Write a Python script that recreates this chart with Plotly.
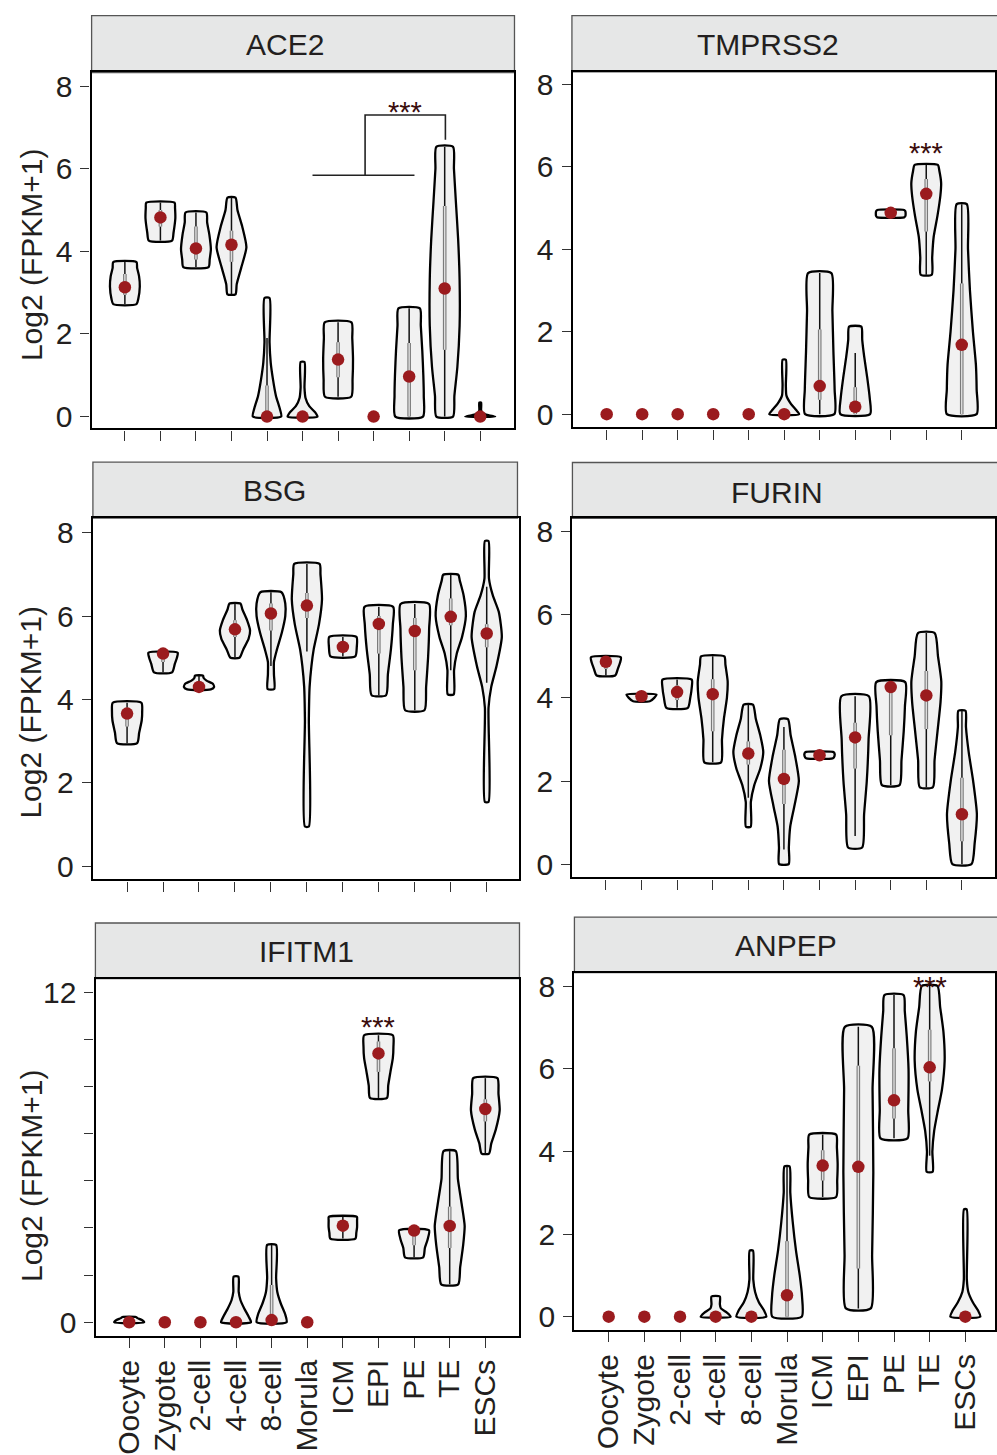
import plotly.graph_objects as go

W, H = 997, 1455
CATS = ["Oocyte", "Zygote", "2-cell", "4-cell", "8-cell", "Morula", "ICM", "EPI", "PE", "TE", "ESCs"]
GENES = ["ACE2", "TMPRSS2", "BSG", "FURIN", "IFITM1", "ANPEP"]

# ---------------- data ----------------
# median (red dot), inner box (q1-q3), whisker (lo-hi), violin outline as (value, relative density)
ACE2_med = [3.13, 4.82, 4.07, 4.16, 0, 0, 1.38, 0, 0.97, 3.10, 0]
ACE2_q1 = [2.95, 4.6, 3.8, 3.75, 0, 0, 0.95, None, 0, 1.62, 0]
ACE2_q3 = [3.45, 5.0, 4.6, 4.5, 0.75, 0, 1.8, None, 1.78, 5.1, 0]
ACE2_lo = [2.72, 4.26, 3.62, 2.96, 0, 0, 0.48, None, 0, 0, 0]
ACE2_hi = [3.74, 5.18, 4.94, 5.3, 1.9, 0, 2.28, None, 2.62, 6.53, 0]
ACE2_shape = [
    [(2.72, 0.78), (2.85, 0.9), (3.15, 1.0), (3.4, 0.95), (3.6, 0.82), (3.74, 0.78)],
    [(4.26, 0.78), (4.45, 0.88), (4.8, 1.0), (5.05, 0.98), (5.18, 0.95)],
    [(3.62, 0.85), (3.8, 0.92), (4.05, 1.0), (4.4, 0.9), (4.7, 0.75), (4.94, 0.7)],
    [(2.96, 0.27), (3.2, 0.35), (3.6, 0.65), (4.1, 1.0), (4.6, 0.72), (5.0, 0.4), (5.3, 0.27)],
    [(0, 0.95), (0.2, 0.85), (0.5, 0.6), (0.9, 0.4), (1.3, 0.25), (1.8, 0.17), (2.87, 0.17)],
    [(0, 1.0), (0.1, 0.85), (0.25, 0.45), (0.45, 0.2), (0.7, 0.13), (1.32, 0.13)],
    [(0.48, 0.88), (0.9, 0.97), (1.4, 1.0), (1.9, 0.95), (2.28, 0.9)],
    None,
    [(0, 0.93), (0.5, 0.98), (1.0, 0.95), (1.6, 0.88), (2.2, 0.78), (2.62, 0.72)],
    [(0, 0.56), (0.5, 0.65), (1.2, 0.85), (2.2, 1.0), (3.3, 1.0), (4.3, 0.9), (5.2, 0.75), (6.0, 0.62), (6.53, 0.56)],
    [(0, 1.0), (0.03, 0.6), (0.08, 0.15), (0.15, 0.06), (0.34, 0.06)],
]

TMPRSS2_med = [0, 0, 0, 0, 0, 0, 0.68, 0.18, 4.88, 5.34, 1.68]
TMPRSS2_q1 = [None, None, None, None, None, 0, 0.35, 0, 4.85, 4.43, 0]
TMPRSS2_q3 = [None, None, None, None, None, 0, 2.05, 0.65, 4.92, 5.7, 3.17]
TMPRSS2_lo = [None, None, None, None, None, 0, 0, 0, 4.77, 3.38, 0]
TMPRSS2_hi = [None, None, None, None, None, 0, 3.42, 1.48, 4.95, 6.04, 5.09]
TMPRSS2_shape = [
    None, None, None, None, None,
    [(0, 1.0), (0.1, 0.8), (0.25, 0.45), (0.45, 0.15), (0.7, 0.11), (1.32, 0.11)],
    [(0, 0.98), (0.6, 1.0), (1.5, 0.92), (2.5, 0.85), (3.42, 0.78)],
    [(0, 1.0), (0.4, 0.97), (0.9, 0.8), (1.4, 0.6), (1.8, 0.47), (2.12, 0.41)],
    [(4.77, 0.9), (4.8, 0.98), (4.86, 1.0), (4.92, 0.98), (4.95, 0.9)],
    [(3.38, 0.37), (3.8, 0.4), (4.3, 0.5), (4.8, 0.75), (5.3, 0.95), (5.6, 1.0), (5.9, 0.88), (6.04, 0.78)],
    [(0, 1.0), (0.6, 1.0), (1.2, 0.95), (2.0, 0.75), (3.0, 0.55), (4.0, 0.42), (5.09, 0.34)],
]

BSG_med = [3.66, 5.1, 4.3, 5.68, 6.06, 6.25, 5.26, 5.81, 5.64, 5.98, 5.58]
BSG_q1 = [3.35, 4.9, 4.27, 5.5, 5.65, 5.95, 5.15, 5.1, 4.7, 5.78, 5.25]
BSG_q3 = [3.8, 5.1, 4.4, 5.9, 6.3, 6.55, 5.4, 6.0, 5.95, 6.42, 5.8]
BSG_lo = [2.95, 4.65, 4.24, 5.0, 4.8, 5.15, 5.03, 4.1, 3.74, 4.7, 4.4]
BSG_hi = [3.92, 5.12, 4.57, 6.3, 6.57, 7.25, 5.5, 6.22, 6.29, 6.99, 6.7]
BSG_shape = [
    [(2.95, 0.67), (3.2, 0.8), (3.5, 0.97), (3.7, 1.0), (3.92, 0.95)],
    [(4.65, 0.6), (4.85, 0.78), (5.0, 0.92), (5.12, 0.97)],
    [(4.24, 0.78), (4.3, 1.0), (4.38, 0.9), (4.45, 0.5), (4.52, 0.3), (4.57, 0.27)],
    [(5.0, 0.3), (5.2, 0.55), (5.45, 0.9), (5.65, 1.0), (5.9, 0.8), (6.15, 0.5), (6.3, 0.36)],
    [(4.25, 0.22), (4.6, 0.2), (4.9, 0.2), (5.2, 0.4), (5.6, 0.72), (6.0, 0.95), (6.3, 0.95), (6.57, 0.7)],
    [(0.95, 0.13), (3.5, 0.13), (4.3, 0.18), (4.8, 0.3), (5.2, 0.45), (5.8, 0.8), (6.4, 1.0), (7.0, 0.9), (7.25, 0.84)],
    [(5.03, 0.82), (5.25, 0.92), (5.5, 0.9)],
    [(4.1, 0.48), (4.6, 0.6), (5.2, 0.8), (5.8, 0.93), (6.22, 0.95)],
    [(3.74, 0.64), (4.3, 0.75), (5.0, 0.88), (5.7, 0.95), (6.29, 0.94)],
    [(4.12, 0.2), (4.7, 0.22), (5.1, 0.4), (5.5, 0.75), (6.0, 1.0), (6.5, 0.85), (6.85, 0.6), (6.99, 0.5)],
    [(1.54, 0.12), (3.8, 0.12), (4.3, 0.3), (4.8, 0.65), (5.5, 1.0), (6.1, 0.8), (6.5, 0.4), (6.9, 0.15), (7.8, 0.12)],
]

FURIN_med = [4.87, 4.04, 4.14, 4.09, 2.66, 2.05, 2.62, 3.05, 4.26, 4.06, 1.2]
FURIN_q1 = [4.7, 3.98, 3.95, 3.2, 2.4, 1.45, 2.6, 2.3, 3.1, 3.25, 0.55]
FURIN_q3 = [4.95, 4.06, 4.3, 4.45, 2.95, 2.75, 2.65, 3.4, 4.38, 4.65, 2.08]
FURIN_lo = [4.54, 3.92, 3.76, 2.45, 1.6, 0.35, 2.55, 0.68, 1.9, 1.85, 0]
FURIN_hi = [4.98, 4.08, 4.44, 5.0, 3.84, 3.3, 2.7, 4.04, 4.38, 5.56, 3.69]
FURIN_shape = [
    [(4.54, 0.62), (4.7, 0.8), (4.85, 0.95), (4.98, 1.0)],
    [(3.92, 0.56), (4.0, 0.85), (4.08, 1.0)],
    [(3.76, 0.72), (4.0, 0.88), (4.25, 0.98), (4.44, 0.98)],
    [(2.45, 0.56), (3.0, 0.62), (3.5, 0.75), (4.0, 0.95), (4.4, 1.0), (4.8, 0.85), (5.0, 0.78)],
    [(0.9, 0.16), (1.5, 0.17), (1.9, 0.4), (2.3, 0.8), (2.7, 1.0), (3.1, 0.8), (3.5, 0.5), (3.84, 0.31)],
    [(0, 0.32), (0.4, 0.33), (0.9, 0.42), (1.4, 0.7), (2.0, 1.0), (2.6, 0.75), (3.1, 0.45), (3.49, 0.27)],
    [(2.55, 0.9), (2.6, 1.0), (2.67, 1.0), (2.7, 0.9)],
    [(0.4, 0.47), (1.2, 0.6), (2.0, 0.78), (3.0, 0.9), (4.04, 0.92)],
    [(1.9, 0.59), (2.5, 0.72), (3.2, 0.87), (3.8, 0.95), (4.38, 0.97)],
    [(1.85, 0.44), (2.5, 0.55), (3.2, 0.75), (3.9, 0.95), (4.4, 1.0), (5.0, 0.78), (5.56, 0.56)],
    [(0, 0.64), (0.5, 0.85), (1.2, 1.0), (2.0, 0.75), (2.7, 0.45), (3.3, 0.27), (3.69, 0.24)],
]

IFITM1_med = [0, 0, 0, 0, 0.08, 0, 3.51, 9.77, 3.33, 3.5, 7.75]
IFITM1_q1 = [0, None, None, 0, 0, None, 3.3, 9.1, 2.8, 2.7, 7.3]
IFITM1_q3 = [0, None, None, 0, 1.35, None, 3.7, 10.2, 3.3, 4.2, 8.1]
IFITM1_lo = [0, None, None, 0, 0, None, 3.04, 8.15, 2.36, 1.38, 6.13]
IFITM1_hi = [0, None, None, 0, 2.81, None, 3.83, 10.43, 3.34, 6.22, 8.87]
IFITM1_shape = [
    [(0, 1.0), (0.08, 0.85), (0.15, 0.55), (0.19, 0.45)],
    None, None,
    [(0, 1.0), (0.2, 0.85), (0.5, 0.55), (0.8, 0.3), (1.1, 0.18), (1.66, 0.16)],
    [(0, 1.0), (0.3, 0.9), (0.7, 0.6), (1.1, 0.38), (1.6, 0.3), (2.81, 0.3)],
    None,
    [(3.04, 0.84), (3.25, 0.9), (3.45, 0.95), (3.7, 0.95), (3.83, 0.94)],
    [(8.15, 0.57), (8.6, 0.65), (9.1, 0.8), (9.6, 0.96), (10.0, 1.0), (10.43, 0.96)],
    [(2.36, 0.61), (2.7, 0.72), (3.0, 0.9), (3.34, 1.0)],
    [(1.38, 0.57), (2.0, 0.7), (2.8, 0.9), (3.5, 1.0), (4.3, 0.8), (5.2, 0.55), (6.22, 0.41)],
    [(6.13, 0.25), (6.5, 0.4), (7.0, 0.7), (7.7, 0.96), (8.3, 0.88), (8.87, 0.81)],
]

ANPEP_med = [0, 0, 0, 0, 0, 0.52, 3.66, 3.63, 5.24, 6.04, 0]
ANPEP_q1 = [None, None, None, 0, 0, 0, 3.3, 1.17, 4.8, 5.7, 0]
ANPEP_q3 = [None, None, None, 0, 0, 1.83, 4.03, 6.08, 6.5, 6.95, 0]
ANPEP_lo = [None, None, None, 0, 0, 0, 2.9, 0.2, 4.32, 3.9, 0]
ANPEP_hi = [None, None, None, 0, 0, 3.64, 4.41, 7.02, 7.79, 8.01, 0]
ANPEP_shape = [
    None, None, None,
    [(0, 1.0), (0.1, 0.75), (0.2, 0.35), (0.3, 0.28), (0.49, 0.28)],
    [(0, 1.0), (0.15, 0.85), (0.35, 0.5), (0.6, 0.25), (0.9, 0.13), (1.6, 0.11)],
    [(0, 0.98), (0.5, 1.0), (1.0, 0.85), (1.6, 0.6), (2.3, 0.38), (3.0, 0.22), (3.64, 0.17)],
    [(2.9, 0.9), (3.3, 0.97), (3.7, 1.0), (4.1, 0.95), (4.41, 0.9)],
    [(0.2, 0.83), (1.5, 0.92), (3.5, 1.0), (5.5, 0.95), (7.02, 0.9)],
    [(4.32, 0.9), (5.0, 0.95), (6.0, 0.97), (6.8, 0.85), (7.4, 0.72), (7.79, 0.64)],
    [(3.51, 0.2), (4.0, 0.18), (4.5, 0.3), (5.0, 0.55), (5.5, 0.82), (6.2, 1.0), (6.9, 0.92), (7.5, 0.7), (8.01, 0.52)],
    [(0, 1.0), (0.15, 0.85), (0.35, 0.5), (0.6, 0.2), (0.9, 0.1), (2.6, 0.09)],
]

# significance marks: (category position, value)
ACE2_sig = (7.89, 7.54)
TMPRSS2_sig = (9, 6.49)
IFITM1_sig = (7, 11.0)
ANPEP_sig = (9, 8.15)
# ACE2 comparison bracket path
ACE2_bracket_x = [[5.28, 8.15], [6.76, 6.76, 9.02, 9.02]]
ACE2_bracket_y = [[5.84, 5.84], [5.84, 7.30, 7.30, 6.70]]

Y_TICKS_8 = [0, 2, 4, 6, 8]
Y_TICKS_12 = [0, 1.714, 3.429, 5.143, 6.857, 8.571, 10.286, 12]
Y_TEXT_12 = ["0", "", "", "", "", "", "", "12"]

DATA = {
    "ACE2": (ACE2_med, ACE2_q1, ACE2_q3, ACE2_lo, ACE2_hi, ACE2_shape),
    "TMPRSS2": (TMPRSS2_med, TMPRSS2_q1, TMPRSS2_q3, TMPRSS2_lo, TMPRSS2_hi, TMPRSS2_shape),
    "BSG": (BSG_med, BSG_q1, BSG_q3, BSG_lo, BSG_hi, BSG_shape),
    "FURIN": (FURIN_med, FURIN_q1, FURIN_q3, FURIN_lo, FURIN_hi, FURIN_shape),
    "IFITM1": (IFITM1_med, IFITM1_q1, IFITM1_q3, IFITM1_lo, IFITM1_hi, IFITM1_shape),
    "ANPEP": (ANPEP_med, ANPEP_q1, ANPEP_q3, ANPEP_lo, ANPEP_hi, ANPEP_shape),
}
SIG = {"ACE2": ACE2_sig, "TMPRSS2": TMPRSS2_sig, "IFITM1": IFITM1_sig, "ANPEP": ANPEP_sig}

# ---------------- layout geometry (pixels) ----------------
PANELS = [
    dict(box=(91.7, 69, 515, 427.7), c0=125.0, sp=35.57, z=415.7, ppu=41.625,
         strip=(91.7, 11.7, 515, 69), lab=(285, 41), ytitle=252),
    dict(box=(573.3, 68.3, 995.7, 426.7), c0=607.3, sp=35.54, z=413.3, ppu=41.575,
         strip=(572.5, 11.7, 1000, 68.3), lab=(769, 41), ytitle=None),
    dict(box=(93, 518, 520, 882), c0=127.2, sp=36.0, z=868.7, ppu=42.0,
         strip=(93, 461.7, 518, 518), lab=(275, 490), ytitle=713),
    dict(box=(573, 518.3, 995.7, 880), c0=606.5, sp=35.64, z=866.7, ppu=41.88,
         strip=(573, 462, 1000, 518.3), lab=(778, 492), ytitle=None),
    dict(box=(95.7, 982, 520, 1341.7), c0=129.3, sp=35.65, z=1328.3, ppu=27.73,
         strip=(95.5, 926, 520, 982), lab=(307, 955), ytitle=1180),
    dict(box=(575, 976, 996, 1336), c0=609.3, sp=35.7, z=1322.7, ppu=41.6,
         strip=(575, 920, 1000, 976), lab=(787, 949), ytitle=None),
]

FONT = "Liberation Sans, Arial, Helvetica, sans-serif"
TXT = "#231f20"
FS_TICK = 30
FS_TITLE = 30
HALF = 0.42
VIOLIN_FILL = "#f1f1f1"
DOT = "#9b1b1e"

fig = go.Figure()
layout = dict(width=W, height=H, margin=dict(l=0, r=0, t=0, b=0),
              paper_bgcolor="white", plot_bgcolor="white", showlegend=False,
              font=dict(family=FONT, color=TXT, size=FS_TICK))
shapes, annotations = [], []

for i, (gene, P) in enumerate(zip(GENES, PANELS)):
    n = "" if i == 0 else str(i + 1)
    xa, ya = "x" + n, "y" + n
    med, q1, q3, lo, hi, shp = DATA[gene]
    bx0, by0, bx1, by1 = P["box"]
    xr = [(bx0 - P["c0"]) / P["sp"], (bx1 - P["c0"]) / P["sp"]]
    yr = [(P["z"] - by1) / P["ppu"], (P["z"] - by0) / P["ppu"]]
    bottom = i >= 4
    layout["xaxis" + n] = dict(
        domain=[bx0 / W, bx1 / W], range=xr, anchor=ya,
        tickmode="array", tickvals=list(range(len(CATS))), ticktext=CATS,
        showticklabels=bottom, tickangle=-90, tickfont=dict(size=FS_TICK, color=TXT, family=FONT),
        ticks="outside", ticklen=10, tickwidth=1.2, tickcolor="#333",
        showline=True, mirror=True, linecolor="black", linewidth=2.4,
        showgrid=False, zeroline=False, fixedrange=True)
    if gene == "IFITM1":
        tv, tt = Y_TICKS_12, Y_TEXT_12
    else:
        tv, tt = Y_TICKS_8, [str(v) for v in Y_TICKS_8]
    layout["yaxis" + n] = dict(
        domain=[1 - by1 / H, 1 - by0 / H], range=yr, anchor=xa,
        tickmode="array", tickvals=tv, ticktext=tt,
        tickfont=dict(size=FS_TICK, color=TXT, family=FONT),
        ticks="outside", ticklen=9, tickwidth=1.2, tickcolor="#333",
        ticklabelstandoff=2,
        showline=True, mirror=True, linecolor="black", linewidth=2.4,
        showgrid=False, zeroline=False, fixedrange=True)

    # violins
    for c in range(len(CATS)):
        s = shp[c]
        if s is not None:
            ys = [p[0] for p in s]
            ws = [p[1] * HALF for p in s]
            px = [c + w for w in ws] + [c - w for w in reversed(ws)] + [c + ws[0]]
            py = ys + list(reversed(ys)) + [ys[0]]
            fig.add_trace(go.Scatter(x=px, y=py, xaxis=xa, yaxis=ya, mode="lines",
                                     fill="toself", fillcolor=VIOLIN_FILL,
                                     line=dict(color="black", width=2.3, shape="spline", smoothing=0.6),
                                     hoverinfo="skip"))
        if lo[c] is not None and hi[c] - lo[c] > 0.05:
            fig.add_trace(go.Scatter(x=[c, c], y=[lo[c], hi[c]], xaxis=xa, yaxis=ya, mode="lines",
                                     line=dict(color="#111", width=1.5), hoverinfo="skip"))
        if q1[c] is not None and q3[c] - q1[c] > 0.05:
            fig.add_trace(go.Scatter(x=[c, c], y=[q1[c], q3[c]], xaxis=xa, yaxis=ya, mode="lines",
                                     line=dict(color="#7a7a7a", width=3.6), hoverinfo="skip"))
            fig.add_trace(go.Scatter(x=[c, c], y=[q1[c], q3[c]], xaxis=xa, yaxis=ya, mode="lines",
                                     line=dict(color="#dedede", width=1.4), hoverinfo="skip"))
    fig.add_trace(go.Scatter(x=list(range(len(CATS))), y=med, xaxis=xa, yaxis=ya, mode="markers",
                             marker=dict(color=DOT, size=12.5, line=dict(width=0)),
                             cliponaxis=False, hoverinfo="skip"))

    # header strip
    sx0, sy0, sx1, sy1 = P["strip"]
    shapes.append(dict(type="rect", xref="paper", yref="paper", layer="below",
                       x0=sx0 / W, x1=sx1 / W, y0=1 - sy1 / H, y1=1 - sy0 / H,
                       fillcolor="#e6e7e7", line=dict(color="#555", width=1.3)))
    annotations.append(dict(xref="paper", yref="paper", x=P["lab"][0] / W, y=1 - P["lab"][1] / H,
                            text=gene, showarrow=False, xanchor="center", yanchor="middle",
                            font=dict(size=FS_TITLE, color=TXT, family=FONT)))
    if P["ytitle"] is not None:
        annotations.append(dict(xref="paper", yref="paper", x=31 / W, y=1 - P["ytitle"] / H,
                                text="Log2 (FPKM+1)", showarrow=False, textangle=-90,
                                xanchor="center", yanchor="middle",
                                font=dict(size=FS_TITLE, color=TXT, family=FONT)))
    if gene in SIG:
        sx, sv = SIG[gene]
        annotations.append(dict(xref=xa, yref=ya, x=sx, y=sv, text="***", showarrow=False,
                                xanchor="center", yanchor="middle", yshift=-7,
                                font=dict(size=29, color="#3a0d0d", family=FONT)))
    if gene == "ACE2":
        for bxs, bys in zip(ACE2_bracket_x, ACE2_bracket_y):
            fig.add_trace(go.Scatter(x=bxs, y=bys, xaxis=xa, yaxis=ya, mode="lines",
                                     line=dict(color="#222", width=1.6), hoverinfo="skip"))

layout["shapes"] = shapes
layout["annotations"] = annotations
fig.update_layout(**layout)
fig.write_html("out.html")
